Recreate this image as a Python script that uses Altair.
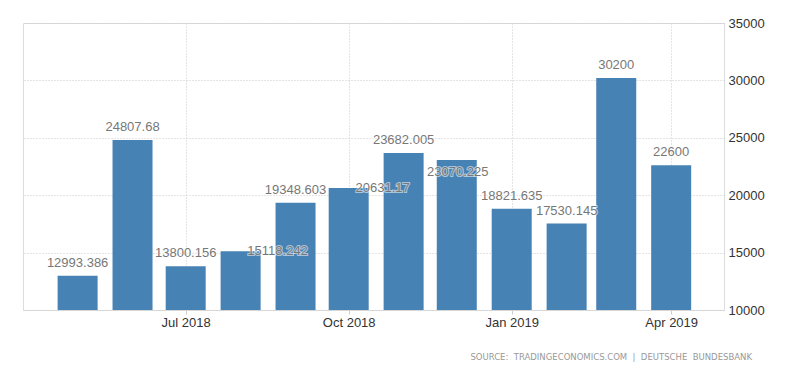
import altair as alt
import pandas as pd

months = ["2018-05-01", "2018-06-01", "2018-07-01", "2018-08-01", "2018-09-01", "2018-10-01",
          "2018-11-01", "2018-12-01", "2019-01-01", "2019-02-01", "2019-03-01", "2019-04-01"]
values = [12993.386, 24807.68, 13800.156, 15118.242, 19348.603, 20631.17,
          23682.005, 23070.225, 18821.635, 17530.145, 30200, 22600]
y_ticks = [10000, 15000, 20000, 25000, 30000, 35000]
x_ticks = ["2018-07-01", "2018-10-01", "2019-01-01", "2019-04-01"]
source_text = "SOURCE:\u00a0 TRADINGECONOMICS.COM\u00a0 |\u00a0 DEUTSCHE\u00a0 BUNDESBANK"


def fmt(v):
    return ("%.3f" % v).rstrip("0").rstrip(".")


df = pd.DataFrame({"date": months, "key": months, "value": values,
                   "label": [fmt(v) for v in values]})

FONT = "Liberation Sans, Arial"


def dt(s):
    y, m, d = (int(p) for p in s.split("-"))
    return alt.DateTime(year=y, month=m, date=d, utc=True)


x_enc = alt.X(
    "date:T",
    scale=alt.Scale(type="utc", domain=[dt("2018-04-03"), dt("2019-04-28")]),
    axis=alt.Axis(
        title=None,
        values=[dt(s) for s in x_ticks],
        labelExpr="utcFormat(datum.value, '%b %Y')",
        grid=True,
        gridDash=[1, 2],
        gridColor="#c8c8c8",
        domain=False,
        ticks=True,
        tickSize=4,
        tickColor="#cccccc",
        labelPadding=2,
        labelFont=FONT,
        labelFontSize=13,
        labelColor="#333333",
    ),
)
y_enc = alt.Y(
    "value:Q",
    scale=alt.Scale(domain=[10000, 35000], zero=False, nice=False),
    axis=alt.Axis(
        title=None,
        orient="right",
        values=y_ticks,
        format="d",
        grid=True,
        gridDash=[1, 2],
        gridColor="#c8c8c8",
        domain=False,
        ticks=False,
        labelPadding=4,
        labelFont=FONT,
        labelFontSize=13,
        labelColor="#333333",
    ),
)

base = alt.Chart(df)

bars = base.mark_bar(size=40, color="#4682b4").encode(
    x=x_enc, y=y_enc, y2=alt.datum(10000)
)


def label_layer(filter_expr, dx, dy):
    common = dict(font=FONT, fontSize=13, baseline="middle", align="center", dx=dx, dy=dy)
    halo = base.transform_filter(filter_expr).mark_text(
        stroke="white", strokeWidth=2, strokeOpacity=0.55, fill="white", fillOpacity=0.3, **common
    ).encode(x=x_enc, y=y_enc, text="label:N")
    txt = base.transform_filter(filter_expr).mark_text(
        color="#777777", **common
    ).encode(x=x_enc, y=y_enc, text="label:N")
    return [halo, txt]


special = ["2018-08-01", "2018-10-01", "2018-12-01"]
normal_expr = " && ".join(f"datum.key != '{s}'" for s in special)

layers = [bars]
layers += label_layer(normal_expr, 0, -13)
layers += label_layer("datum.key == '2018-08-01'", 37, 0)
layers += label_layer("datum.key == '2018-10-01'", 34, 0)
layers += label_layer("datum.key == '2018-12-01'", 1, 12)

chart = alt.layer(*layers).properties(
    width=701,
    height=287,
    autosize=alt.AutoSizeParams(type="none"),
    padding={"left": 15, "top": 15, "right": 60, "bottom": 60},
    title=alt.TitleParams(
        text=source_text,
        orient="bottom",
        anchor="end",
        frame="group",
        dx=28,
        offset=24,
        font="DejaVu Sans",
        fontSize=8.5,
        fontWeight="normal",
        color="#999999",
    ),
).configure_view(stroke=None).configure(background="white")

chart.save("out.html", embed_options={"renderer": "svg", "actions": False})
